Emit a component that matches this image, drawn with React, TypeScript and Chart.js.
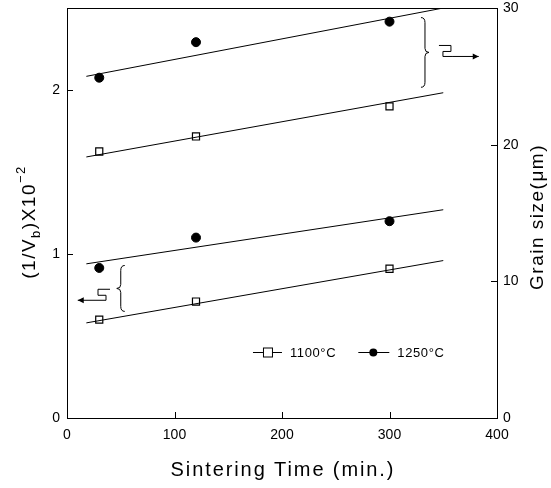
import React, { useEffect, useRef } from "react";
import { Chart, registerables } from "chart.js";

Chart.register(...registerables);

const times = [30, 120, 300];
const vb1100 = [0.6, 0.71, 0.91];
const vb1250 = [0.915, 1.1, 1.2];
const grain1100 = [19.5, 20.6, 22.8];
const grain1250 = [24.9, 27.5, 29.0];
const fitTimes = [18, 350];
const vbFit1100 = [0.58, 0.96];
const vbFit1250 = [0.94, 1.27];
const grainFit1100 = [19.1, 23.8];
const grainFit1250 = [25.0, 30.0];
const xTickValues = [0, 100, 200, 300, 400];
const leftTickValues = [0, 1, 2];
const rightTickValues = [0, 10, 20, 30];
const legendLabels = ["1100°C", "1250°C"];

const FONT = "'Liberation Sans', Arial, sans-serif";

const pts = (xs: number[], ys: number[]) => xs.map((x, i) => ({ x, y: ys[i] }));

function drawBrace(ctx: CanvasRenderingContext2D, x: number, y1: number, y2: number, dir: number) {
  const w = 4 * dir;
  const mid = (y1 + y2) / 2;
  ctx.beginPath();
  ctx.moveTo(x - w, y1);
  ctx.quadraticCurveTo(x, y1, x, y1 + 5);
  ctx.lineTo(x, mid - 4);
  ctx.quadraticCurveTo(x, mid, x + w, mid);
  ctx.quadraticCurveTo(x, mid, x, mid + 4);
  ctx.lineTo(x, y2 - 5);
  ctx.quadraticCurveTo(x, y2, x - w, y2);
  ctx.stroke();
}

function drawSquiggleArrow(ctx: CanvasRenderingContext2D, x1: number, y: number, x2: number, dir: number) {
  const d = dir;
  ctx.beginPath();
  ctx.moveTo(x1, y - 9);
  ctx.lineTo(x1 + 12 * d, y - 9);
  ctx.lineTo(x1 + 12 * d, y - 3);
  ctx.lineTo(x1 + 4 * d, y - 3);
  ctx.lineTo(x1 + 4 * d, y + 2);
  ctx.lineTo(x1 + 14 * d, y + 2);
  ctx.lineTo(x2, y + 2);
  ctx.stroke();
  ctx.beginPath();
  ctx.moveTo(x2, y + 2);
  ctx.lineTo(x2 - 6 * d, y - 1);
  ctx.lineTo(x2 - 6 * d, y + 5);
  ctx.closePath();
  ctx.fill();
}

function spacedText(ctx: any, text: string, x: number, y: number, spacing: number) {
  ctx.letterSpacing = `${spacing}px`;
  ctx.fillText(text, x, y);
  ctx.letterSpacing = "0px";
}

const decorPlugin = {
  id: "decor",
  afterDraw(chart: any) {
    const ctx: any = chart.ctx;
    const { left, right, top, bottom } = chart.chartArea;
    const xs = chart.scales.x;
    const yl = chart.scales.yLeft;
    const yr = chart.scales.yRight;
    ctx.save();
    ctx.strokeStyle = "#000";
    ctx.fillStyle = "#000";
    ctx.lineWidth = 1;
    ctx.strokeRect(left + 0.5, top + 0.5, right - left, bottom - top);
    ctx.beginPath();
    xTickValues.slice(1, -1).forEach((v) => {
      const px = Math.round(xs.getPixelForValue(v)) + 0.5;
      ctx.moveTo(px, bottom);
      ctx.lineTo(px, bottom - 6);
    });
    leftTickValues.slice(1).forEach((v) => {
      const py = Math.round(yl.getPixelForValue(v)) + 0.5;
      ctx.moveTo(left, py);
      ctx.lineTo(left + 6, py);
    });
    rightTickValues.slice(1, -1).forEach((v) => {
      const py = Math.round(yr.getPixelForValue(v)) + 0.5;
      ctx.moveTo(right, py);
      ctx.lineTo(right - 6, py);
    });
    ctx.stroke();

    // x title
    ctx.font = `20px ${FONT}`;
    ctx.textAlign = "center";
    ctx.textBaseline = "middle";
    spacedText(ctx, "Sintering Time (min.)", 283, 470, 1.9);

    // right title
    ctx.save();
    ctx.translate(538, 217);
    ctx.rotate(-Math.PI / 2);
    ctx.font = `19px ${FONT}`;
    spacedText(ctx, "Grain size(\u03bcm)", 0, 0, 1.5);
    ctx.restore();

    // left title with sub/superscript
    ctx.save();
    ctx.translate(28, 222);
    ctx.rotate(-Math.PI / 2);
    ctx.textAlign = "left";
    ctx.textBaseline = "alphabetic";
    ctx.letterSpacing = "1.5px";
    const parts = [
      { t: "(1/V", f: `19px ${FONT}`, dy: 0 },
      { t: "b", f: `13px ${FONT}`, dy: 5 },
      { t: ")X10", f: `19px ${FONT}`, dy: 0 },
      { t: "\u22122", f: `13px ${FONT}`, dy: -10 },
    ];
    let total = 0;
    parts.forEach((p) => {
      ctx.font = p.f;
      total += ctx.measureText(p.t).width;
    });
    let cx = -total / 2;
    parts.forEach((p) => {
      ctx.font = p.f;
      ctx.fillText(p.t, cx, 7 + p.dy);
      cx += ctx.measureText(p.t).width;
    });
    ctx.letterSpacing = "0px";
    ctx.restore();

    // legend
    const ly = Math.round(yl.getPixelForValue(0.4)) + 0.5;
    const l1 = xs.getPixelForValue(173);
    ctx.beginPath();
    ctx.moveTo(l1, ly);
    ctx.lineTo(l1 + 29, ly);
    ctx.stroke();
    ctx.fillStyle = "#fff";
    ctx.fillRect(l1 + 10, ly - 4.5, 9, 9);
    ctx.strokeRect(l1 + 10.5, ly - 4.5, 9, 9);
    ctx.fillStyle = "#000";
    ctx.font = `13px ${FONT}`;
    ctx.textAlign = "left";
    ctx.textBaseline = "middle";
    spacedText(ctx, legendLabels[0], l1 + 37, ly + 1, 0.6);
    const l2 = xs.getPixelForValue(271);
    ctx.beginPath();
    ctx.moveTo(l2, ly);
    ctx.lineTo(l2 + 31, ly);
    ctx.stroke();
    ctx.beginPath();
    ctx.arc(l2 + 15, ly, 4, 0, Math.PI * 2);
    ctx.fill();
    spacedText(ctx, legendLabels[1], l2 + 39, ly + 1, 0.6);

    // upper brace + arrow (to right axis)
    const bx = xs.getPixelForValue(333);
    drawBrace(ctx, bx, yr.getPixelForValue(29.3), yr.getPixelForValue(24.2), 1);
    drawSquiggleArrow(ctx, xs.getPixelForValue(346), yr.getPixelForValue(26.6), xs.getPixelForValue(383), 1);

    // lower brace + arrow (to left axis)
    const bx2 = xs.getPixelForValue(50);
    drawBrace(ctx, bx2, yl.getPixelForValue(0.93), yl.getPixelForValue(0.65), -1);
    drawSquiggleArrow(ctx, xs.getPixelForValue(40), yl.getPixelForValue(0.73), xs.getPixelForValue(10), -1);

    ctx.restore();
  },
};

export default function App() {
  const ref = useRef<HTMLCanvasElement | null>(null);
  useEffect(() => {
    if (!ref.current) return;
    const lineDs = (data: any, axis: string) => ({
      type: "line",
      data,
      yAxisID: axis,
      borderColor: "#000",
      borderWidth: 1,
      pointRadius: 0,
      showLine: true,
      fill: false,
    });
    const sqDs = (data: any, axis: string) => ({
      type: "line",
      data,
      yAxisID: axis,
      showLine: false,
      pointStyle: "rect",
      pointRadius: 5,
      pointBackgroundColor: "#fff",
      pointBorderColor: "#000",
      pointBorderWidth: 1.2,
    });
    const ciDs = (data: any, axis: string) => ({
      type: "line",
      data,
      yAxisID: axis,
      showLine: false,
      pointStyle: "circle",
      pointRadius: 4.5,
      pointBackgroundColor: "#000",
      pointBorderColor: "#000",
      pointBorderWidth: 1,
    });
    const tickFont = { family: FONT, size: 14 };
    const zeroPad = (s: any) => {
      s.paddingTop = 0;
      s.paddingBottom = 0;
      s.paddingLeft = 0;
      s.paddingRight = 0;
    };
    const chart = new Chart(ref.current, {
      type: "line",
      data: {
        datasets: [
          lineDs(pts(fitTimes, grainFit1250), "yRight"),
          lineDs(pts(fitTimes, grainFit1100), "yRight"),
          lineDs(pts(fitTimes, vbFit1250), "yLeft"),
          lineDs(pts(fitTimes, vbFit1100), "yLeft"),
          ciDs(pts(times, grain1250), "yRight"),
          sqDs(pts(times, grain1100), "yRight"),
          ciDs(pts(times, vb1250), "yLeft"),
          sqDs(pts(times, vb1100), "yLeft"),
        ] as any,
      },
      options: {
        responsive: false,
        animation: false,
        layout: { padding: { top: 8, left: 0, right: 0, bottom: 0 } },
        plugins: { legend: { display: false }, tooltip: { enabled: false } },
        scales: {
          x: {
            type: "linear",
            min: 0,
            max: 400,
            grid: { display: false, drawTicks: false },
            border: { display: false },
            ticks: { color: "#000", font: tickFont, padding: 9 },
            afterBuildTicks: (s: any) => {
              s.ticks = xTickValues.map((v) => ({ value: v }));
            },
            afterFit: (s: any) => {
              s.height = 70;
              zeroPad(s);
            },
          },
          yLeft: {
            type: "linear",
            position: "left",
            min: 0,
            max: 2.5,
            grid: { display: false, drawTicks: false },
            border: { display: false },
            ticks: { color: "#000", font: tickFont, padding: 7 },
            afterBuildTicks: (s: any) => {
              s.ticks = leftTickValues.map((v) => ({ value: v }));
            },
            afterFit: (s: any) => {
              s.width = 67;
              zeroPad(s);
            },
          },
          yRight: {
            type: "linear",
            position: "right",
            min: 0,
            max: 30,
            grid: { display: false, drawTicks: false },
            border: { display: false },
            ticks: { color: "#000", font: tickFont, padding: 6 },
            afterBuildTicks: (s: any) => {
              s.ticks = rightTickValues.map((v) => ({ value: v }));
            },
            afterFit: (s: any) => {
              s.width = 54;
              zeroPad(s);
            },
          },
        },
      } as any,
      plugins: [decorPlugin],
    });
    return () => chart.destroy();
  }, []);
  return (
    <div style={{ position: "fixed", left: 0, top: 0, width: 551, height: 488, background: "#fff" }}>
      <canvas ref={ref} width={551} height={488} style={{ display: "block" }} />
    </div>
  );
}
